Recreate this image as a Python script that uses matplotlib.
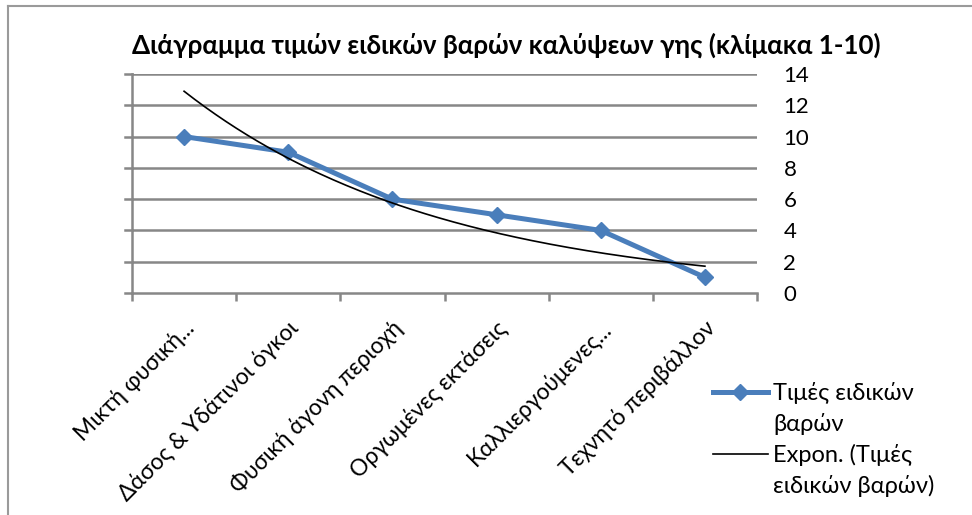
import matplotlib
matplotlib.use("Agg")
import matplotlib.pyplot as plt
import matplotlib.transforms as mtransforms
from matplotlib.lines import Line2D
import numpy as np

plt.rcParams['font.family'] = ['Lato', 'DejaVu Sans']

categories = ['Μικτή φυσική...', 'Δάσος & Υδάτινοι όγκοι', 'Φυσική άγονη περιοχή',
              'Οργωμένες εκτάσεις', 'Καλλιεργούμενες...', 'Τεχνητό περιβάλλον']
values = [10, 9, 6, 5, 4, 1]
y_ticks = [0, 2, 4, 6, 8, 10, 12, 14]

title = 'Διάγραμμα τιμών ειδικών βαρών καλύψεων γης (κλίμακα 1-10)'
series_label = ['Τιμές ειδικών', 'βαρών']
trend_label = ['Expon. (Τιμές', 'ειδικών βαρών)']

grid_col = '#878787'

fig = plt.figure(figsize=(9.72, 5.15), dpi=100)
ax = fig.add_axes([132/972, 1 - 293/515, (757 - 132)/972, (293 - 74)/515])

x = np.arange(len(values))
# exponential trendline fitted on the data (as Excel does)
b, ln_a = np.polyfit(x + 1, np.log(values), 1)
xs = np.linspace(0, len(values) - 1, 200)
trend = np.exp(ln_a) * np.exp(b * (xs + 1))

line_s, = ax.plot(x, values, color='#4a7ebb', lw=3.6, marker='D', markersize=8, zorder=3)
line_t, = ax.plot(xs, trend, color='black', lw=1.2, zorder=4)

ax.set_xlim(-0.5, len(values) - 0.5)
ax.set_ylim(0, 14)
ax.set_yticks(y_ticks)
for yv in y_ticks[1:]:
    ax.axhline(yv, color=grid_col, lw=1.8, zorder=1)

ax.yaxis.tick_right()
ax.tick_params(axis='y', length=0, labelsize=16, pad=19)
ax.tick_params(axis='x', which='minor', length=6, width=1.8, color=grid_col, direction='out')
ax.tick_params(axis='x', which='major', length=0)
ax.set_xticks(np.arange(-0.5, len(values), 1.0), minor=True)
ax.set_xticks(x)
ax.set_xticklabels(categories, rotation=45, ha='right', va='center',
                   rotation_mode='anchor', fontsize=16.5)
offset = mtransforms.ScaledTranslation(7/100, -27/100, fig.dpi_scale_trans)
for lab in ax.get_xticklabels():
    lab.set_transform(lab.get_transform() + offset)

for s in ['top', 'right']:
    ax.spines[s].set_visible(False)
for s in ['left', 'bottom']:
    ax.spines[s].set_color(grid_col)
    ax.spines[s].set_linewidth(1.8)
ax.spines['bottom'].set_zorder(2)

# small left tick marks
for yv in y_ticks:
    ax.add_line(Line2D([-0.5 - 7/104, -0.5], [yv, yv], color=grid_col, lw=1.8, clip_on=False))

fig.text(506/972, 1 - 45/515, title, ha='center', va='center', fontsize=18.7, fontweight='bold')

# legend: handle aligned with the first line of each wrapped label (Excel style)
blank = Line2D([], [], color='none')
leg = fig.legend([line_s, blank, line_t, blank],
                 [series_label[0], series_label[1], trend_label[0], trend_label[1]],
                 loc='upper left', bbox_to_anchor=(692/972, 1 - 361/515), frameon=False,
                 fontsize=17, handlelength=2.3, handletextpad=0.25, labelspacing=0.37)

# outer chart border
fig.add_artist(Line2D([8/972, 1], [1 - 6/515, 1 - 6/515], color='#9a9a9a', lw=1.5))
fig.add_artist(Line2D([8/972, 8/972], [0, 1 - 6/515], color='#9a9a9a', lw=1.5))

fig.savefig('out.png', dpi=100)
